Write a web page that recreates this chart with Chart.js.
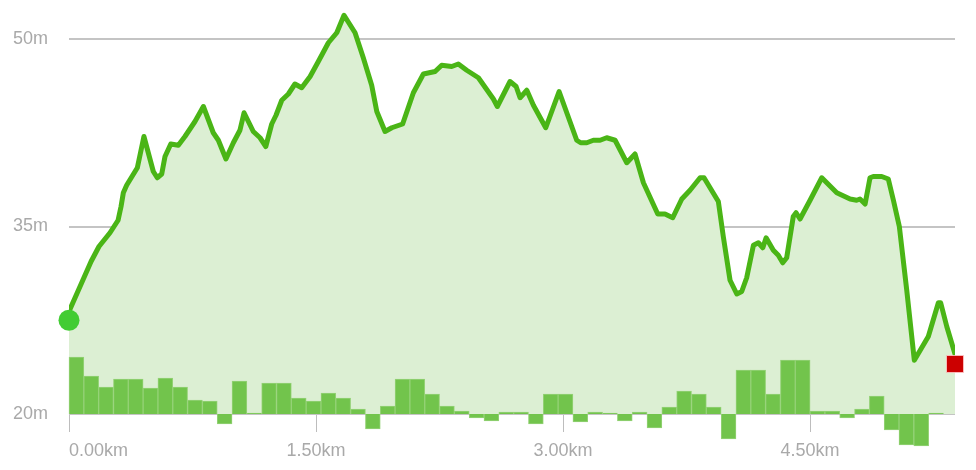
<!DOCTYPE html>
<html>
<head>
<meta charset="utf-8">
<script src="https://cdn.jsdelivr.net/npm/chart.js@4.4.1/dist/chart.umd.min.js"></script>
<style>
  html, body { margin: 0; padding: 0; background: #fff; }
</style>
</head>
<body>
<canvas id="elevationChart" width="976" height="470"></canvas>
<script>
// elevation profile, km / m
const distances = [0, 0.067, 0.134, 0.182, 0.249, 0.298, 0.316, 0.330, 0.350, 0.415,
  0.455, 0.512, 0.536, 0.563, 0.583, 0.618, 0.664, 0.704, 0.765, 0.816,
  0.876, 0.907, 0.953, 0.998, 1.038, 1.063, 1.119, 1.160, 1.195, 1.231,
  1.257, 1.292, 1.332, 1.372, 1.413, 1.464, 1.514, 1.575, 1.626, 1.670,
  1.737, 1.787, 1.838, 1.869, 1.919, 1.960, 2.026, 2.091, 2.152, 2.223,
  2.263, 2.324, 2.364, 2.415, 2.486, 2.577, 2.601, 2.678, 2.715, 2.739,
  2.780, 2.820, 2.895, 2.976, 3.083, 3.107, 3.144, 3.184, 3.225, 3.265,
  3.316, 3.387, 3.437, 3.488, 3.575, 3.619, 3.666, 3.721, 3.771, 3.832,
  3.856, 3.943, 3.973, 4.014, 4.055, 4.085, 4.115, 4.156, 4.186, 4.213,
  4.233, 4.277, 4.307, 4.334, 4.358, 4.398, 4.415, 4.439, 4.500, 4.571,
  4.662, 4.743, 4.783, 4.803, 4.834, 4.864, 4.884, 4.935, 4.975, 5.006,
  5.042, 5.087, 5.133, 5.218, 5.279, 5.293, 5.330, 5.380];

const elevations = [28.2, 30.2, 32.2, 33.4, 34.5, 35.5, 36.6, 37.7, 38.3, 39.7,
  42.2, 39.4, 38.9, 39.2, 40.6, 41.6, 41.5, 42.2, 43.4, 44.6,
  42.5, 41.9, 40.4, 41.7, 42.7, 44.1, 42.6, 42.1, 41.4, 43.2,
  43.9, 45.1, 45.6, 46.4, 46.1, 47.0, 48.2, 49.7, 50.5, 51.9,
  50.5, 48.5, 46.3, 44.2, 42.6, 42.9, 43.2, 45.7, 47.2, 47.4,
  47.9, 47.8, 48.0, 47.5, 46.9, 45.2, 44.6, 46.6, 46.2, 45.3,
  45.9, 44.7, 42.9, 45.8, 41.9, 41.7, 41.7, 41.9, 41.9, 42.1,
  41.9, 40.1, 40.8, 38.5, 36.0, 36.0, 35.7, 37.2, 37.9, 38.9,
  38.9, 37.0, 34.2, 30.7, 29.6, 29.8, 30.9, 33.5, 33.7, 33.3,
  34.1, 33.1, 32.7, 32.1, 32.5, 35.8, 36.1, 35.6, 37.1, 38.9,
  37.7, 37.2, 37.1, 37.2, 36.8, 38.9, 39.0, 39.0, 38.8, 37.1,
  35.0, 29.9, 24.3, 26.2, 28.9, 28.9, 27.0, 24.8];

// climb per 90 m segment
const segmentSize = 0.09;
const segmentClimb = [5.7, 3.8, 2.7, 3.5, 3.5, 2.6, 3.6, 2.7, 1.4, 1.3,
  -1.0, 3.3, 0.1, 3.1, 3.1, 1.6, 1.3, 2.1, 1.6, 0.5,
  -1.5, 0.8, 3.5, 3.5, 2.0, 0.8, 0.3, -0.4, -0.7, 0.2,
  0.2, -1.0, 2.0, 2.0, -0.8, 0.2, 0.1, -0.7, 0.2, -1.4,
  0.7, 2.3, 2.0, 0.7, -2.5, 4.4, 4.4, 2.0, 5.4, 5.4,
  0.3, 0.3, -0.4, 0.5, 1.8, -1.6, -3.1, -3.2, 0.1];

const startPoint = { x: 0, y: 27.5 };
const endPoint = { x: 5.38, y: 24.0 };

const distanceTicks = [0, 1.5, 3, 4.5];
const elevationTicks = [20, 35, 50];
const totalDistance = 5.38;

const labelFont = { family: 'Arial, "Liberation Sans", sans-serif', size: 18 };
const labelColor = '#a9a9a9';

function buildChart() {
  const ctx = document.getElementById('elevationChart').getContext('2d');

  const profile = distances.map((d, i) => ({ x: d, y: elevations[i] }));
  const segments = segmentClimb.map((v, i) => ({ x: segmentSize * i + segmentSize / 2, y: v }));

  new Chart(ctx, {
    type: 'line',
    data: {
      datasets: [
        {
          type: 'scatter',
          data: [startPoint],
          pointRadius: 10.5,
          pointHoverRadius: 10.5,
          backgroundColor: '#42cc33',
          borderWidth: 0,
          clip: false,
          order: 0
        },
        {
          type: 'scatter',
          data: [endPoint],
          pointStyle: 'rect',
          pointRadius: 12,
          backgroundColor: '#cc0000',
          borderColor: 'rgba(255,200,200,0.8)',
          borderWidth: 1,
          clip: false,
          order: 0
        },
        {
          type: 'line',
          data: profile,
          borderColor: '#4ab516',
          borderWidth: 5,
          borderJoinStyle: 'round',
          borderCapStyle: 'round',
          backgroundColor: '#dcefd3',
          fill: 'start',
          pointRadius: 0,
          tension: 0,
          order: 1
        },
        {
          type: 'bar',
          data: segments,
          yAxisID: 'y2',
          backgroundColor: '#72c44c',
          borderColor: '#95d277',
          borderWidth: 1,
          barPercentage: 1,
          categoryPercentage: 1,
          clip: false,
          order: 2
        }
      ]
    },
    options: {
      responsive: false,
      animation: false,
      layout: { autoPadding: false, padding: { left: 0, right: 21, top: 4, bottom: 0 } },
      plugins: {
        legend: { display: false },
        tooltip: { enabled: false },
        filler: { drawTime: 'beforeDatasetsDraw' }
      },
      scales: {
        x: {
          type: 'linear',
          min: 0,
          max: totalDistance,
          offset: false,
          afterBuildTicks: axis => {
            axis.ticks = distanceTicks.concat([totalDistance]).map(v => ({ value: v }));
          },
          afterFit: axis => {
            axis.height = 56;
            axis.paddingLeft = 0;
            axis.paddingRight = 0;
          },
          ticks: {
            autoSkip: false,
            maxRotation: 0,
            align: 'inner',
            padding: 8,
            color: labelColor,
            font: labelFont,
            callback: (v, i) => i < distanceTicks.length ? v.toFixed(2) + 'km' : ''
          },
          grid: {
            offset: false,
            drawOnChartArea: false,
            drawTicks: true,
            tickLength: 18,
            tickWidth: 1,
            tickColor: c => c.index < distanceTicks.length ? '#bdbdbd' : 'rgba(0,0,0,0)'
          },
          border: { display: false }
        },
        y: {
          min: 20,
          max: 52.8,
          afterBuildTicks: axis => {
            axis.ticks = elevationTicks.map(v => ({ value: v }));
          },
          afterFit: axis => {
            axis.width = 69;
            axis.paddingTop = 0;
            axis.paddingBottom = 0;
          },
          ticks: {
            padding: 21,
            color: labelColor,
            font: labelFont,
            callback: v => v + 'm'
          },
          grid: {
            color: '#c4c4c4',
            lineWidth: 2,
            drawTicks: false
          },
          border: { display: false }
        },
        y2: {
          display: false,
          min: 0,
          max: 41
        }
      }
    }
  });
}

window.addEventListener('DOMContentLoaded', buildChart);
</script>
</body>
</html>
